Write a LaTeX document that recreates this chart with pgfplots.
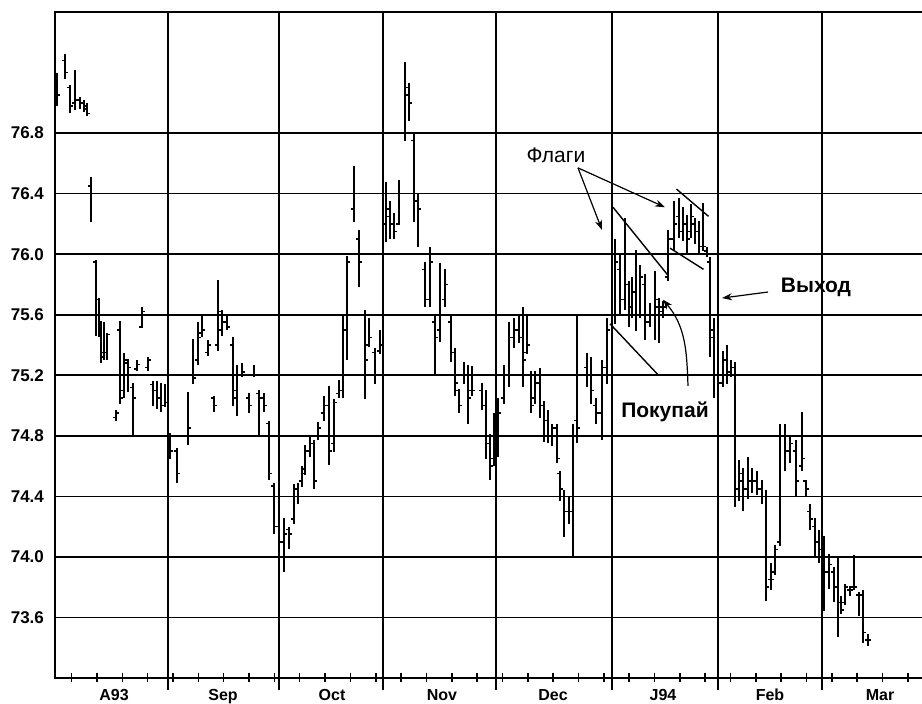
\documentclass[border=0pt]{standalone}
\usepackage{fontspec}
\setmainfont{Liberation Sans}
\usepackage{pgfplots}
\usepackage{pgfplotstable}
\pgfplotsset{compat=1.18}
\usetikzlibrary{arrows.meta}

% close tick to the right, open tick to the left
\pgfdeclareplotmark{ctick}{\pgfpathmoveto{\pgfpointorigin}\pgfpathlineto{\pgfpoint{1.7pt}{0pt}}\pgfusepathqstroke}
\pgfdeclareplotmark{otick}{\pgfpathmoveto{\pgfpointorigin}\pgfpathlineto{\pgfpoint{-1.7pt}{0pt}}\pgfusepathqstroke}

% d = trading day from start of Aug 1993; o h l c
\pgfplotstableread{
d o h l c
0.4 77.10 77.20 76.98 77.05
2.0 77.28 77.32 77.16 77.20
3.0 77.10 77.12 76.93 76.98
4.0 77.00 77.22 76.95 77.02
5.0 77.02 77.04 76.96 77.00
5.8 77.00 77.02 76.94 76.96
6.4 76.98 77.00 76.91 76.93
7.2 76.45 76.51 76.21 76.40
8.2 75.95 75.96 75.46 75.70
8.8 75.70 75.71 75.45 75.50
9.2 75.50 75.56 75.28 75.32
9.8 75.35 75.55 75.30 75.35
10.4 75.35 75.48 75.30 75.47
12.2 74.92 74.97 74.90 74.95
13.0 75.50 75.56 75.01 75.05
13.8 75.10 75.35 75.05 75.30
14.6 75.28 75.31 75.09 75.25
15.6 75.12 75.15 74.80 75.05
16.4 75.24 75.30 75.23 75.27
17.4 75.52 75.65 75.51 75.62
18.6 75.25 75.32 75.23 75.30
19.6 75.14 75.16 75.00 75.10
20.4 75.10 75.16 74.98 75.05
21.2 75.05 75.15 74.96 75.00
22.0 75.00 75.14 74.99 75.02
23.0 74.80 74.82 74.65 74.70
24.4 74.70 74.72 74.49 74.55
26.6 74.80 75.09 74.74 74.85
27.6 75.20 75.44 75.14 75.18
28.6 75.30 75.55 75.27 75.45
29.4 75.48 75.60 75.45 75.50
30.6 75.35 75.43 75.33 75.40
31.8 75.05 75.06 74.96 75.00
32.6 75.40 75.83 75.36 75.62
33.4 75.50 75.63 75.46 75.55
34.4 75.55 75.60 75.50 75.52
35.6 75.40 75.45 75.00 75.10
36.4 75.05 75.27 74.93 75.20
37.4 75.20 75.28 75.19 75.22
38.8 75.05 75.08 74.95 75.00
39.8 75.20 75.27 75.19 75.20
40.8 75.08 75.10 74.80 75.05
41.8 75.05 75.08 74.96 75.00
42.8 74.88 74.90 74.51 74.55
43.8 74.47 74.49 74.15 74.20
44.8 74.20 74.35 74.00 74.10
45.8 74.10 74.26 73.90 74.15
46.8 74.18 74.20 74.05 74.15
47.8 74.25 74.48 74.22 74.45
48.6 74.40 74.49 74.35 74.40
49.4 74.50 74.60 74.46 74.55
50.0 74.58 74.74 74.54 74.70
51.0 74.70 74.80 74.66 74.75
51.8 74.75 74.77 74.45 74.50
52.6 74.80 74.89 74.77 74.85
53.8 74.95 75.06 74.90 75.00
54.8 75.00 75.13 74.61 74.70
55.8 74.75 75.04 74.69 75.02
56.8 75.08 75.17 75.05 75.10
57.6 75.10 75.59 75.05 75.50
58.4 75.50 75.99 75.30 75.95
59.8 76.30 76.58 76.21 76.40
60.8 76.10 76.16 75.78 75.95
62.0 75.60 75.63 75.04 75.30
62.8 75.40 75.58 75.39 75.45
64.0 75.35 75.38 75.14 75.20
65.0 75.36 75.50 75.34 75.40
66.2 76.20 76.48 76.08 76.30
67.0 76.25 76.35 76.10 76.20
67.8 76.20 76.27 76.10 76.15
68.8 76.20 76.49 76.19 76.40
70.0 76.80 77.27 76.75 77.10
70.8 77.05 77.13 76.88 77.00
71.8 76.75 76.80 76.21 76.40
72.6 76.35 76.40 76.05 76.30
74.0 75.90 75.95 75.65 75.70
75.0 75.70 76.05 75.65 75.95
76.0 75.55 75.60 75.20 75.45
77.0 75.50 75.94 75.42 75.60
78.0 75.70 75.90 75.65 75.80
79.2 75.55 75.59 75.29 75.35
80.0 75.35 75.38 75.06 75.15
80.8 75.10 75.11 74.95 75.00
81.8 75.20 75.29 75.14 75.20
82.6 75.20 75.27 74.88 75.05
83.4 75.10 75.26 75.06 75.10
85.4 75.10 75.15 74.97 75.00
86.2 75.00 75.10 74.65 74.80
87.0 74.75 74.81 74.51 74.60
87.8 74.65 74.95 74.60 74.90
88.6 74.90 75.05 74.66 74.95
89.8 75.05 75.27 75.01 75.20
90.8 75.20 75.55 75.12 75.45
91.8 75.45 75.58 75.38 75.50
92.8 75.50 75.60 75.41 75.45
93.6 75.45 75.65 75.12 75.30
94.4 75.35 75.60 75.34 75.40
95.2 75.20 75.23 74.95 75.00
96.0 75.05 75.23 75.01 75.15
97.0 75.15 75.25 74.92 75.00
97.8 75.00 75.03 74.76 74.90
98.6 74.90 74.97 74.75 74.80
99.4 74.80 74.88 74.73 74.85
100.4 74.85 74.88 74.62 74.65
101.0 74.55 74.57 74.37 74.45
101.8 74.40 74.44 74.13 74.30
102.8 74.30 74.40 74.22 74.30
103.6 74.30 74.88 74.00 74.80
104.4 74.90 75.60 74.75 74.85
106.4 75.25 75.35 75.12 75.20
107.2 75.20 75.32 75.01 75.10
108.2 75.00 75.05 74.88 74.95
109.4 74.95 75.30 74.77 75.25
110.4 75.25 75.58 75.14 75.50
112.0 75.60 76.10 75.54 75.95
113.0 75.90 76.00 75.60 75.70
114.0 75.70 76.24 75.63 75.80
114.8 75.80 75.82 75.52 75.60
115.4 75.65 75.85 75.58 75.75
116.2 75.75 76.03 75.49 75.60
117.0 75.60 75.93 75.58 75.85
118.0 75.80 75.87 75.43 75.55
119.0 75.55 75.68 75.52 75.60
120.0 75.60 75.89 75.43 75.70
120.8 75.65 75.71 75.41 75.65
121.6 75.62 75.69 75.58 75.65
122.6 75.85 76.16 75.82 76.10
123.8 76.10 76.35 76.02 76.20
124.8 76.25 76.37 76.11 76.15
125.6 76.15 76.31 76.09 76.20
126.4 76.20 76.26 76.01 76.10
127.2 76.15 76.33 76.11 76.25
128.0 76.20 76.24 76.07 76.15
128.8 76.15 76.22 76.01 76.05
129.6 76.05 76.34 76.02 76.05
130.4 76.02 76.05 75.98 76.00
131.0 75.95 75.98 75.32 75.45
131.8 75.50 75.58 75.05 75.20
132.6 75.20 75.32 75.05 75.15
133.6 75.15 75.36 75.12 75.30
134.4 75.30 75.40 75.14 75.20
135.2 75.22 75.30 75.19 75.25
136.0 75.25 75.29 74.33 74.40
136.8 74.45 74.64 74.37 74.55
137.6 74.50 74.59 74.30 74.45
138.6 74.45 74.66 74.38 74.50
139.4 74.50 74.59 74.42 74.50
140.4 74.50 74.57 74.41 74.45
141.4 74.45 74.51 74.35 74.40
142.2 74.40 74.44 73.71 73.80
143.2 73.85 73.96 73.78 73.85
144.0 73.90 74.08 73.88 74.05
145.0 74.10 74.88 74.07 74.80
146.0 74.80 74.88 74.57 74.70
147.0 74.70 74.79 74.62 74.75
148.2 74.70 74.77 74.40 74.50
149.4 74.60 74.96 74.57 74.65
150.2 74.50 74.51 74.40 74.45
151.0 74.30 74.35 74.18 74.25
152.0 74.20 74.26 74.00 74.10
152.8 74.10 74.18 73.96 74.05
153.8 74.05 74.14 73.64 73.90
154.8 73.90 74.02 73.79 73.95
155.8 73.90 73.93 73.70 73.80
156.6 73.80 74.00 73.47 73.70
157.2 73.70 73.74 73.62 73.65
158.0 73.70 73.82 73.68 73.80
159.0 73.78 73.81 73.74 73.78
159.8 73.80 74.01 73.78 73.80
160.8 73.75 73.77 73.61 73.75
161.6 73.75 73.78 73.43 73.50
162.6 73.45 73.49 73.41 73.45
}\bars

\begin{document}
\begin{tikzpicture}
\begin{axis}[
  name=ax,
  scale only axis,
  width=434.5pt, height=333pt,
  xmin=0, xmax=173.8,
  ymin=73.2, ymax=77.6,
  axis line style={line width=1.2pt},
  xtick={22.6,44.8,65.6,88.2,111.4,132.6,153.4},
  xticklabels={},
  minor xtick={3.3,8.4,13.5,18.5,23.6,28.7,33.7,38.8,43.9,48.9,54.0,59.1,64.2,69.2,74.3,79.4,84.4,89.5,94.6,99.6,104.7,109.8,114.8,119.9,125.0,130.0,135.1,140.2,145.2,150.3,155.4,160.4,165.5,170.6},
  ytick={73.6,74.0,74.4,74.8,75.2,75.6,76.0,76.4,76.8},
  xtick pos=bottom, ytick pos=left,
  grid=major,
  grid style={black, line width=0.8pt},
  tick align=center,
  major tick length=12pt,
  minor tick length=4.5pt,
  tick style={black, line width=0.8pt},
  ytick style={draw=none},
  extra x ticks={11.8,33.6,55.4,77.4,99.6,121.6,143,165},
  extra x tick labels={A93,Sep,Oct,Nov,Dec,J94,Feb,Mar},
  extra x tick style={grid=none, major tick length=0pt},
  xticklabel style={font=\bfseries\fontsize{8}{9}\selectfont, yshift=-2pt},
  yticklabel style={font=\bfseries\fontsize{8.5}{10}\selectfont, xshift=4pt},
  /pgf/number format/.cd, fixed, fixed zerofill, precision=1, assume math mode=true,
]
\addplot[black, only marks, mark=ctick, mark options={line width=0.8pt},
  error bars/.cd, y dir=both, y explicit, error mark=none,
  error bar style={line width=0.9pt, black}]
  table[x=d, y=c, y error plus expr=\thisrow{h}-\thisrow{c}, y error minus expr=\thisrow{c}-\thisrow{l}] {\bars};
\addplot[black, only marks, mark=otick, mark options={line width=0.8pt}]
  table[x=d, y=o] {\bars};

% flag outlines
\draw[line width=0.7pt] (axis cs:111.6,76.31) -- (axis cs:122.6,75.86);
\draw[line width=0.7pt] (axis cs:111.0,75.54) -- (axis cs:120.7,75.20);
\draw[line width=0.7pt] (axis cs:124.3,76.43) -- (axis cs:130.7,76.25);
\draw[line width=0.7pt] (axis cs:123.0,76.04) -- (axis cs:129.7,75.90);

% annotations
\node[font=\fontsize{10.5}{12}\selectfont] at (axis cs:100.2,76.65) {Флаги};
\draw[line width=0.6pt, -{Stealth[length=5pt,width=3.5pt]}] (axis cs:104.6,76.57) -- (axis cs:109.4,76.16);
\draw[line width=0.6pt, -{Stealth[length=5pt,width=3.5pt]}] (axis cs:104.6,76.57) -- (axis cs:122.0,76.31);
\node[font=\bfseries\fontsize{10.5}{12}\selectfont] at (axis cs:122.0,74.96) {Покупай};
\draw[line width=0.6pt, -{Stealth[length=5pt,width=3.5pt]}] (axis cs:126.6,75.13) to[out=92,in=-50] (axis cs:121.6,75.70);
\node[font=\bfseries\fontsize{10.5}{12}\selectfont] at (axis cs:152.2,75.78) {Выход};
\draw[line width=0.6pt, -{Stealth[length=5pt,width=3.5pt]}] (axis cs:142.6,75.75) -- (axis cs:133.4,75.71);
\end{axis}
\pgfresetboundingbox
\useasboundingbox ([xshift=-27.5pt,yshift=-13pt]ax.south west) rectangle ([xshift=-1pt,yshift=6pt]ax.north east);
\end{tikzpicture}
\end{document}
